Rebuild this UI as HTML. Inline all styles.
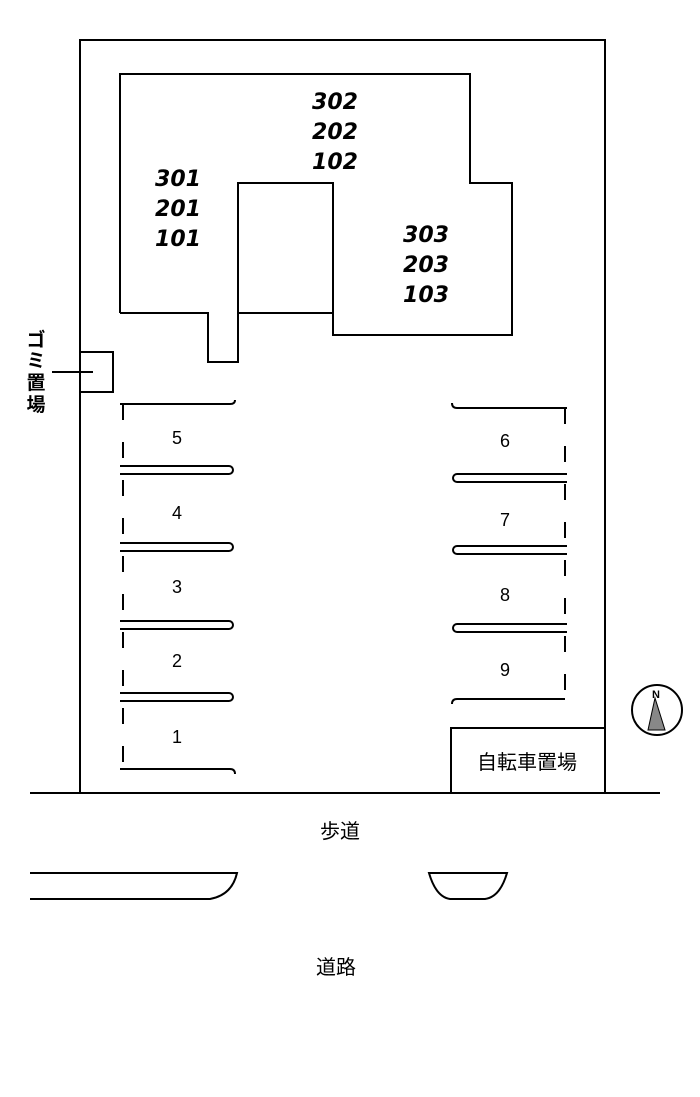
<!DOCTYPE html>
<html><head><meta charset="utf-8"><style>
html,body{margin:0;padding:0;background:#fff;}
svg{display:block}
.u{font-family:"DejaVu Sans",sans-serif;font-weight:bold;font-style:italic;font-size:22px;fill:#000;text-anchor:middle}
.n{font-family:"Liberation Sans",sans-serif;font-size:18px;fill:#000;text-anchor:middle}
.j{font-family:"Liberation Sans","Noto Sans CJK JP",sans-serif;fill:#000;text-anchor:middle}
</style></head><body>
<svg width="700" height="1097" viewBox="0 0 700 1097" xmlns="http://www.w3.org/2000/svg">
<g fill="none" stroke="#000" stroke-width="2">
<rect x="80" y="40" width="525" height="753"/>
<line x1="30" y1="793" x2="660" y2="793"/>
<polyline points="120,313 120,74 470,74 470,183 512,183 512,335 333,335 333,183 238,183 238,362 208,362 208,313 120,313"/>
<line x1="238" y1="313" x2="333" y2="313"/>
<rect x="80" y="352" width="33" height="40"/>
<line x1="52" y1="372" x2="93" y2="372"/>
<path d="M120,404 H230 Q235,404 235,400"/>
<path d="M120,466 H229 A4,4 0 0 1 229,474 H120"/>
<path d="M120,543 H229 A4,4 0 0 1 229,551 H120"/>
<path d="M120,621 H229 A4,4 0 0 1 229,629 H120"/>
<path d="M120,693 H229 A4,4 0 0 1 229,701 H120"/>
<path d="M120,769 H230 Q235,769 235,774"/>
<line x1="123" y1="404" x2="123" y2="770" stroke-dasharray="16,22"/>
<path d="M567,408 H457 Q452,408 452,403"/>
<path d="M567,474 H457 A4,4 0 0 0 457,482 H567"/>
<path d="M567,546 H457 A4,4 0 0 0 457,554 H567"/>
<path d="M567,624 H457 A4,4 0 0 0 457,632 H567"/>
<path d="M565,699 H457 Q452,699 452,704"/>
<line x1="565" y1="408" x2="565" y2="699" stroke-dasharray="16,22"/>
<rect x="451" y="728" width="154" height="65"/>
<path d="M30,873 H237 Q232,895 210,899 H30"/>
<path d="M429,873 H507 Q500,897 485,899 H450 Q436,897 429,873 Z"/>
<circle cx="657" cy="710" r="25"/>
</g>
<polygon points="655,698 648,730 665,730" fill="#888" stroke="#000" stroke-width="1"/>
<text x="656" y="698" font-family="Liberation Sans" font-weight="bold" font-size="11" text-anchor="middle">N</text>
<text class="u" x="335" y="109">302</text>
<text class="u" x="335" y="139">202</text>
<text class="u" x="335" y="169">102</text>
<text class="u" x="178" y="186">301</text>
<text class="u" x="178" y="216">201</text>
<text class="u" x="178" y="246">101</text>
<text class="u" x="426" y="242">303</text>
<text class="u" x="426" y="272">203</text>
<text class="u" x="426" y="302">103</text>
<text class="n" x="177" y="444">5</text>
<text class="n" x="177" y="519">4</text>
<text class="n" x="177" y="593">3</text>
<text class="n" x="177" y="667">2</text>
<text class="n" x="177" y="743">1</text>
<text class="n" x="505" y="447">6</text>
<text class="n" x="505" y="526">7</text>
<text class="n" x="505" y="601">8</text>
<text class="n" x="505" y="676">9</text>
<text class="j" x="36" y="346" font-size="19" font-weight="bold">ゴ</text>
<text class="j" x="36" y="367" font-size="19" font-weight="bold">ミ</text>
<text class="j" x="36" y="389" font-size="19" font-weight="bold">置</text>
<text class="j" x="36" y="411" font-size="19" font-weight="bold">場</text>
<text class="j" x="527" y="769" font-size="20">自転車置場</text>
<text class="j" x="340" y="838" font-size="20">歩道</text>
<text class="j" x="336" y="974" font-size="20">道路</text>
</svg>
</body></html>
